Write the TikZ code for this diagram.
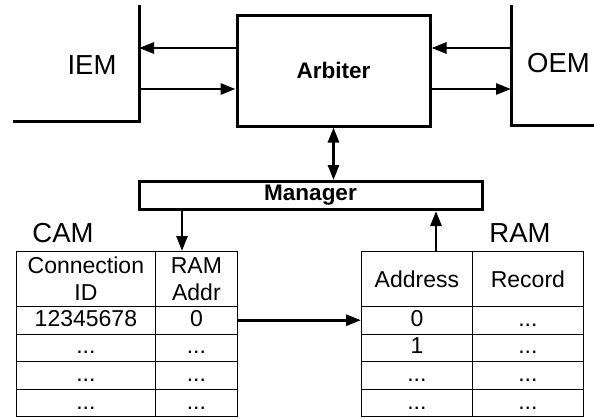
\documentclass[tikz,border=0pt]{standalone}
\usepackage{fontspec}
\setmainfont{Liberation Sans}
\usetikzlibrary{arrows.meta}
\newcommand{\rowdots}{...}

\begin{document}
\begin{tikzpicture}[
    x=1pt,y=-1pt,
    label/.style={font=\fontsize{27.5}{30}\selectfont,anchor=base,inner sep=0pt},
    block/.style={draw,line width=3pt,inner sep=0pt,font=\fontsize{22.5}{26}\selectfont\bfseries},
    cell/.style={draw,line width=0.8pt,anchor=north west,inner sep=0pt,minimum height=27.6pt,
        text height=16pt,text depth=4pt,font=\fontsize{23}{27}\selectfont},
    head/.style={draw,line width=0.8pt,anchor=north west,inner sep=0pt,minimum height=55pt,
        align=center,font=\fontsize{23}{27}\selectfont},
    wall/.style={line width=3pt},
    arr/.style={line width=2.8pt},
    >={Triangle[length=15pt,width=11pt]}
]
\useasboundingbox (0,0) rectangle (594,418);

\node[block,minimum width=193pt,minimum height=111pt] (arb) at (333.5,70.5) {Arbiter};
\node[block,minimum width=343pt,minimum height=28pt] (mgr) at (310.5,195.5) {Manager};

\coordinate (iemtop) at (139,5);
\coordinate (iemfoot) at (139,121);
\coordinate (iemend) at (13,121);
\draw[wall] (iemtop) -- (iemfoot) -- (iemend);
\node[label] (iem) at (92,74) {IEM};

\coordinate (oemtop) at (511,5);
\coordinate (oemfoot) at (511,125);
\coordinate (oemend) at (594,125);
\draw[wall] (oemtop) -- (oemfoot) -- (oemend);
\node[label] (oem) at (558.5,72) {OEM};

\coordinate (arbinl) at ([yshift=22.5pt]arb.west);
\coordinate (arboutl) at ([yshift=-18.5pt]arb.west);
\coordinate (arbinr) at ([yshift=22.5pt]arb.east);
\coordinate (arboutr) at ([yshift=-18.5pt]arb.east);
\draw[->,arr] (arbinl) -- (arbinl -| iemtop);
\draw[->,arr] (arboutl -| iemtop) -- (arboutl);
\draw[->,arr] (arbinr -| oemtop) -- (arbinr);
\draw[->,arr] (arboutr) -- (arboutr -| oemtop);
\draw[<->,arr] (arb.south) -- (arb.south |- mgr.north);

\node[label] (cam) at (63,242) {CAM};
\node[head,minimum width=139pt] (camh1) at (16,251) {Connection\\ID};
\node[head,minimum width=82pt] (camh2) at (155,251) {RAM\\Addr};
\foreach \i/\a/\b in {1/12345678/0,2/\rowdots/\rowdots,3/\rowdots/\rowdots,4/\rowdots/\rowdots}{
    \node[cell,minimum width=139pt] (cama\i) at (16,{306+27.6*(\i-1)}) {\a};
    \node[cell,minimum width=82pt] (camb\i) at (155,{306+27.6*(\i-1)}) {\b};
}

\node[label] (ram) at (520,242) {RAM};
\node[head,minimum width=111pt] (ramh1) at (361,251) {Address};
\node[head,minimum width=111pt] (ramh2) at (472,251) {Record};
\foreach \i/\a/\b in {1/0/\rowdots,2/1/\rowdots,3/\rowdots/\rowdots,4/\rowdots/\rowdots}{
    \node[cell,minimum width=111pt] (rama\i) at (361,{306+27.6*(\i-1)}) {\a};
    \node[cell,minimum width=111pt] (ramb\i) at (472,{306+27.6*(\i-1)}) {\b};
}

\coordinate (camin) at ([xshift=27pt]camh2.north west);
\coordinate (ramout) at ([xshift=75pt]ramh1.north west);
\draw[->,arr] (mgr.south -| camin) -- (camin);
\draw[->,arr] (ramout) -- (ramout |- mgr.south);
\draw[->,arr] (camb1.east) -- (rama1.west);
\end{tikzpicture}
\end{document}
